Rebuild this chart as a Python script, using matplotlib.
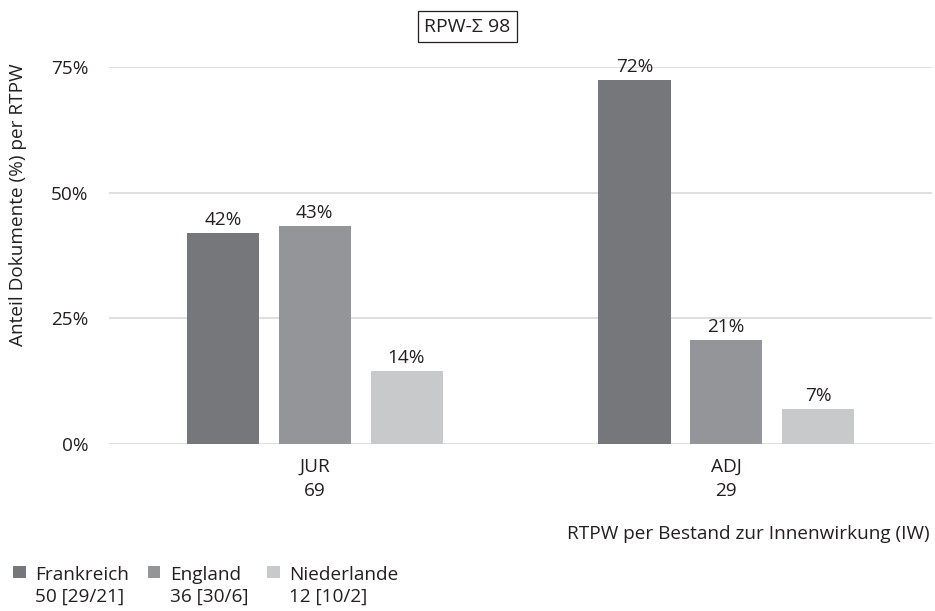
import matplotlib
matplotlib.use("Agg")
import matplotlib.pyplot as plt
import numpy as np

# --- data ---
categories = ["JUR", "ADJ"]
category_totals = [69, 29]
countries = ["Frankreich", "England", "Niederlande"]
country_counts = ["50 [29/21]", "36 [30/6]", "12 [10/2]"]
shares = {
    "Frankreich": [42.0, 72.4],
    "England": [43.4, 20.7],
    "Niederlande": [14.5, 6.9],
}
yticks = [0, 25, 50, 75]
title_text = "RPW-Σ 98"
xlabel_text = "RTPW per Bestand zur Innenwirkung (IW)"
ylabel_text = "Anteil Dokumente (%) per RTPW"

# --- style ---
plt.rcParams["font.family"] = ["Open Sans", "DejaVu Sans"]
plt.rcParams["font.size"] = 13.7
txt = "#231f20"
colors = ["#76777b", "#949598", "#c8c9cb"]

fig = plt.figure(figsize=(9.35, 6.11), dpi=100)
ax = fig.add_axes([0.1166, 0.2733, 0.8802, 0.617])

x = np.arange(len(categories))
width = 0.175
step = 0.223
for i, (name, col) in enumerate(zip(countries, colors)):
    bars = ax.bar(x + (i - 1) * step, shares[name], width, color=col,
                  label=f"{name}\n{country_counts[i]}", zorder=3)
    ax.bar_label(bars, labels=[f"{v:.0f}%" for v in shares[name]],
                 padding=3, color=txt)

ax.set_xlim(-0.5, 1.5)
ax.set_ylim(0, 75)
ax.set_yticks(yticks)
ax.set_yticklabels([f"{t}%" for t in yticks])
ax.set_xticks(x)
ax.set_xticklabels([f"{c}\n{n}" for c, n in zip(categories, category_totals)],
                   linespacing=1.4)
ax.tick_params(axis="both", length=0, colors=txt)
ax.tick_params(axis="y", pad=15)
ax.tick_params(axis="x", pad=10)
ax.grid(axis="y", color="#d9d9d9", linewidth=1.2, zorder=0)
for s in ax.spines.values():
    s.set_visible(False)

ax.set_ylabel(ylabel_text, color=txt)
ax.yaxis.set_label_coords(-0.1, 0.634)
ax.set_xlabel(xlabel_text, color=txt, ha="right")
ax.xaxis.set_label_coords(0.9976, -0.215)

fig.text(0.5, 1 - 26.5 / 611, title_text, ha="center", va="center",
         color=txt, fontsize=14,
         bbox=dict(boxstyle="square,pad=0.33", fc="white", ec=txt, lw=0.9))

leg = fig.legend(loc="upper left", bbox_to_anchor=(0.004, 1 - 556 / 611),
                 ncol=3, frameon=False, handlelength=0.65, handleheight=0.65,
                 handletextpad=0.5, columnspacing=1.0, borderpad=0,
                 labelcolor=txt)
# put the squares next to the first line of each label
for col_box in leg._legend_handle_box.get_children():
    for item in col_box.get_children():
        item.align = "top"
for t in leg.get_texts():
    t.set_linespacing(1.3)

fig.savefig("out.png", dpi=100)
